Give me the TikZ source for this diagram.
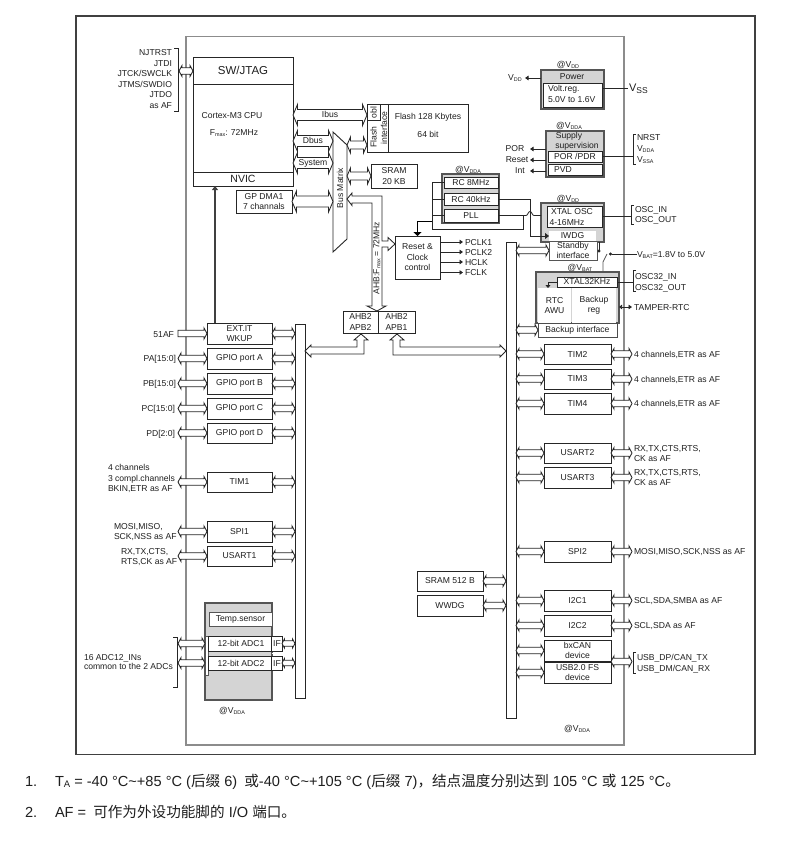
\documentclass[tikz,border=0pt]{standalone}
\usepackage{fontspec}
\setmainfont{Liberation Sans}
\newfontfamily\cjkf{Noto Sans CJK SC}
\usetikzlibrary{calc,arrows.meta}
\definecolor{grayfill}{HTML}{D4D4D4}
\definecolor{grayline}{HTML}{555555}
\definecolor{frameline}{HTML}{8C8C8C}
\newcommand\lowtxt[1]{\raisebox{-1pt}{\fontsize{5.4}{5.4}\selectfont #1}}
\newcommand\bigtxt{\fontsize{11.5}{13}\selectfont}
\newcommand\boxn[7][]{\node[boxs,minimum width={(#5-#3)*1pt},minimum height={(#6-#4)*1pt},#1] (#2) at ({(#3+#5)/2},{(#4+#6)/2}) {#7};}
\newcommand\grp[5]{\node[grps,minimum width={(#4-#2)*1pt},minimum height={(#5-#3)*1pt}] (#1) at ({(#2+#4)/2},{(#3+#5)/2}) {};}
\newcommand\txtC[5][]{\node[anchor=base,#1] (#2) at (#3,#4+3) {#5};}
\newcommand\txtL[5][]{\node[anchor=base west,#1] (#2) at (#3,#4+3) {#5};}
\newcommand\txtR[5][]{\node[anchor=base east,#1] (#2) at (#3,#4+3) {#5};}
\tikzset{
  every node/.style={font=\fontsize{8.6}{10.5}\selectfont,inner sep=0pt,outer sep=0pt,text=black!88},
  boxs/.style={draw=black!85,fill=white,line width=.9pt,align=center},
  grps/.style={draw=grayline,fill=grayfill,line width=1.1pt},
  wire/.style={draw=black!85,line width=.8pt},
  tipl/.style={wire,-{Triangle[length=3.5pt,width=4.5pt]}},
  tipb/.style={wire,{Triangle[length=3pt,width=4.5pt]}-{Triangle[length=3.5pt,width=4.5pt]}},
  fat/.style n args={3}{fill=white,draw=black!85,line width=.85pt,line join=miter,
    to path={
      -- ($(\tikztostart)!#3!(\tikztotarget)!#2!90:(\tikztotarget)$)
      -- ($(\tikztostart)!#3!(\tikztotarget)!#1!90:(\tikztotarget)$)
      -- ($(\tikztotarget)!#3!(\tikztostart)!#1!-90:(\tikztostart)$)
      -- ($(\tikztotarget)!#3!(\tikztostart)!#2!-90:(\tikztostart)$)
      -- (\tikztotarget)
      -- ($(\tikztotarget)!#3!(\tikztostart)!#2!90:(\tikztostart)$)
      -- ($(\tikztotarget)!#3!(\tikztostart)!#1!90:(\tikztostart)$)
      -- ($(\tikztostart)!#3!(\tikztotarget)!#1!-90:(\tikztotarget)$)
      -- ($(\tikztostart)!#3!(\tikztotarget)!#2!-90:(\tikztotarget)$)
      -- cycle}},
  fatsm/.style={fat={3.2pt}{5.5pt}{3pt}},
  fatmd/.style={fat={4pt}{8pt}{3.5pt}},
  fatbg/.style={fat={5.5pt}{10.5pt}{4.5pt}},
  fatend/.style={fill=white,draw=black!85,line width=.85pt,
    to path={
      -- ($(\tikztostart)!3.2pt!90:(\tikztotarget)$)
      -- ($(\tikztotarget)!3pt!(\tikztostart)!3.2pt!-90:(\tikztostart)$)
      -- ($(\tikztotarget)!3pt!(\tikztostart)!5.5pt!-90:(\tikztostart)$)
      -- (\tikztotarget)
      -- ($(\tikztotarget)!3pt!(\tikztostart)!5.5pt!90:(\tikztostart)$)
      -- ($(\tikztotarget)!3pt!(\tikztostart)!3.2pt!90:(\tikztostart)$)
      -- ($(\tikztostart)!3.2pt!-90:(\tikztotarget)$)
      -- cycle}},
}
\begin{document}
\begin{tikzpicture}[x=1pt,y=-1pt]
\useasboundingbox (0,0) rectangle (799,861);
\fill[white] (0,0) rectangle (799,861);
% frames
\draw[draw=black!75,line width=1.1pt] (76,16) rectangle (755,754.5);
\draw[draw=frameline,line width=1.1pt] (186,36.5) rectangle (624,745);

% CPU column
\boxn{jtag}{193}{57}{293}{84}{\bigtxt SW/JTAG}
\boxn{cortex}{193}{84}{293}{172}{}
\boxn{nvic}{193}{172}{293}{186}{\fontsize{10.5}{12}\selectfont NVIC}
\txtC{cortexa}{232}{116}{Cortex-M3 CPU}
\txtC{cortexb}{234}{133}{F\lowtxt{max}: 72MHz}
\boxn{dma}{236}{190}{292}{213}{GP DMA1\\7 channals}
\foreach \n/\y/\t in {a/53/NJTRST,b/64/JTDI,c/74/JTCK\slash SWCLK,d/85/JTMS\slash SWDIO,e/95/JTDO,f/106/as AF}{
  \txtR{jl\n}{172}{\y}{\t}
}
\draw[wire] (174,48) -- (178,48) -- (178,111) -- (174,111);
\coordinate (jt) at (179,71);
\draw[fatsm] (jt) to (jt -| jtag.west);

% bus matrix
\node (mat) at (340,192) [minimum width=14pt,minimum height=120pt] {};
\draw[draw=black!85,fill=white,line width=.9pt] (333,132) -- (347,145) -- (347,239) -- (333,252) -- cycle;
\node[rotate=90] (matl) at (340,188) {Bus Matrix};

% flash
\boxn{flash}{367}{104}{468}{152}{}
\draw[wire] (388,104) -- (388,152);
\draw[wire] (367,120) -- (380,120) -- (380,104);
\node[rotate=90] (fla) at (373.5,112.5) {obl};
\node[rotate=90] (flb) at (373.5,137) {Flash};
\node[rotate=90] (flc) at (384,128) {interface};
\txtC{fld}{428}{117}{Flash 128 Kbytes}
\txtC{fle}{428}{135}{64 bit}
\boxn{sram}{371}{164}{417}{188}{SRAM\\20 KB}

\draw[fatbg] (cortex.east |- 0,115) to (flash.west |- 0,115);
\draw[fatbg] (cortex.east |- 0,141) to (mat.west |- 0,141);
\draw[fatbg] (cortex.east |- 0,163) to (mat.west |- 0,163);
\draw[fatbg] (dma.east) to (dma.east -| mat.west);
\draw[fatmd] (mat.east |- 0,145) to (flash.west |- 0,145);
\draw[fatmd] (mat.east |- sram.west) to (sram.west);
\txtC{ibus}{330}{115}{Ibus}
\txtC{dbus}{313}{141}{Dbus}
\txtC{sysb}{313}{163}{System}

% buses
\boxn{lbus}{295}{324}{305}{698}{}
\boxn{rbus}{506}{242}{516}{718}{}

% AHB
\boxn{ahba}{343}{311}{378}{333}{AHB2\\APB2}
\boxn{ahbb}{378}{311}{415}{333}{AHB2\\APB1}
\draw[fill=white,draw=black!85,line width=.85pt] (347,199) -- (352,193) -- (352,196) -- (382,196) -- (382,241) -- (388,241) -- (388,237.5) -- (395,244) -- (388,250.5) -- (388,247) -- (382,247) -- (382,306) -- (386,306) -- (377,311) -- (367,306) -- (372,306) -- (372,203) -- (352,203) -- (352,205.5) -- cycle;
\node[rotate=90] (ahbl) at (377,258) {AHB:F\lowtxt{max} = 72MHz};
\draw[fill=white,draw=black!85,line width=.85pt] (361,334) -- (368,340) -- (364,340) -- (364,354) -- (311,354) -- (311,357) -- (305,351) -- (311,345) -- (311,347) -- (357,347) -- (357,340) -- (354,340) -- cycle;
\draw[fill=white,draw=black!85,line width=.85pt] (397,334) -- (404,340) -- (400,340) -- (400,347) -- (500,347) -- (500,345) -- (506,351) -- (500,357) -- (500,355) -- (393,355) -- (393,340) -- (390,340) -- cycle;

% Reset & clock
\boxn{rst}{395}{236}{440}{279}{Reset \&\\Clock\\control}
\foreach \n/\y/\t in {a/242/PCLK1,b/252/PCLK2,c/262/HCLK,d/272.5/FCLK}{
  \coordinate (ck\n) at (463,\y);
  \draw[tipl] (ck\n -| rst.east) -- (ck\n);
  \txtL{ckl\n}{465}{\y}{\t}
}

% RC group
\grp{rcg}{442}{174}{499}{223}
\boxn{rca}{444}{177}{498}{188}{RC 8MHz}
\boxn{rcb}{444}{193}{498}{205}{RC 40kHz}
\boxn{pll}{444}{209}{498}{222}{PLL}
\txtC{rcv}{468}{170}{@V\lowtxt{DDA}}

% Power
\grp{pwr}{541}{70}{604}{109}
\boxn{vreg}{543}{83}{602}{107}{}
\txtC{pwrl}{572}{76.5}{Power}
\txtL{vra}{548}{89}{Volt.reg.}
\txtL{vrb}{548}{100}{5.0V to 1.6V}
\txtC{pwrv}{568}{65}{@V\lowtxt{DD}}
\txtC{vddl}{515}{78}{V\lowtxt{DD}}
\coordinate (vdt) at (525,78);
\draw[tipl] (vdt -| pwr.west) -- (vdt);
\draw[wire] (vreg.east |- 0,88) -- (628,88);
\txtL[font=\fontsize{11}{13}\selectfont]{vssl}{629}{89}{V\raisebox{-1.5pt}{\fontsize{8.5}{9}\selectfont SS}}

% Supply
\grp{sup}{546}{131}{604}{177}
\txtC{supa}{569}{136}{Supply}
\txtC{supb}{577}{146}{supervision}
\boxn{por}{548}{151}{602}{162}{POR /PDR}
\boxn{pvd}{548}{164}{602}{175}{}
\txtC{pvdl}{563}{169}{PVD}
\txtC{supv}{569}{126}{@V\lowtxt{DDA}}
\foreach \n/\y/\x/\t in {a/149/515/POR,b/160/517/Reset,c/171/520/Int}{
  \coordinate (sp\n) at (530,\y);
  \draw[tipl] (sp\n -| sup.west) -- (sp\n);
  \txtC{spl\n}{\x}{\y}{\t}
}
\draw[wire] (por.east) -- (633,156.5);
\draw[wire] (636,134) -- (633,134) -- (633,164) -- (636,164);
\txtL{nra}{637}{138}{NRST}
\txtL{nrb}{637}{149}{V\lowtxt{DDA}}
\txtL{nrc}{637}{160}{V\lowtxt{SSA}}

% XTAL
\grp{xtg}{541}{203}{604}{242}
\boxn{xtal}{547}{206}{602}{227}{}
\txtC{xta}{572}{211}{XTAL OSC}
\txtC{xtb}{567}{222}{4-16MHz}
\txtC{xtv}{568}{198}{@V\lowtxt{DD}}
\node[fill=white,minimum width=47pt,minimum height=10pt] (iwdg) at (572.5,236) {IWDG};
\node[draw=grayline,fill=white,line width=.9pt,minimum width=48pt,minimum height=19pt,align=center] (stby) at (573,250.5) {Standby\\interface};
\draw[wire] (xtal.east) -- (631,216.5);
\draw[wire] (634,205) -- (631,205) -- (631,224) -- (634,224);
\txtL{osa}{635}{209}{OSC\_IN}
\txtL{osb}{635}{219.5}{OSC\_OUT}

% wires from RC group
\coordinate (ja) at (432,229);
\coordinate (jb) at (523,229);
\draw[wire] (rca.west) -| (ja) -- (jb) |- (pll.east);
\draw[wire] (rcb.west) -- (rcb.west -| ja);
\draw[wire] (pll.west) -- (pll.west -| ja);
\draw[wire] (pll.east -| jb) -- (526,215.5) .. controls (528,215.5) and (528,211.5) .. (530,211.5) .. controls (532,211.5) and (532,215.5) .. (534,215.5) -- (pll.east -| xtg.west);
\coordinate (iwc) at (530,236);
\draw[wire,-{Triangle[length=4pt,width=6pt]}] (rcb.east) -| (iwc) -- (iwdg.west);
\coordinate (rsj) at (432,221);
\draw[line width=1pt,draw=black,-{Triangle[length=4pt,width=8pt]}] (rsj) -| (rst.north);

% VBAT
\coordinate (vbt) at (637,254);
\coordinate (vbs) at (609,254);
\draw[wire,{Circle[length=3pt]}-] (vbs) -- (vbt);
\txtL{vbl}{637}{254}{V\lowtxt{BAT}=1.8V to 5.0V}
\draw[wire,-{Circle[length=3pt]}] (599,242) -- (599,252.5);
\draw[wire,draw=grayline] (603,272) -- (603,262) -- (607,254);

% Backup domain
\grp{bkg}{536}{272}{619}{323}
\boxn{xt32}{557}{277}{617}{287}{XTAL32KHz}
\node[fill=white,minimum width=33pt,minimum height=35pt,align=center] (rtc) at (554.5,305.5) {RTC\\AWU};
\node[fill=white,minimum width=44pt,minimum height=35pt,align=center] (bkr) at (594,305.5) {Backup\\reg};
\boxn[draw=black!70]{bkif}{538}{323}{617}{337}{Backup interface}
\txtC{bkv}{580}{267}{@V\lowtxt{BAT}}
\coordinate (xsm) at (548,288);
\draw[wire,-{Triangle[length=3pt,width=5pt]}] (xt32.west) -| (xsm);
\draw[wire] (xt32.east) -- (633,282);
\draw[wire] (636,270) -- (633,270) -- (633,291) -- (636,291);
\txtL{o3a}{635}{276}{OSC32\_IN}
\txtL{o3b}{635}{287}{OSC32\_OUT}
\coordinate (tmp) at (632,307);
\draw[tipb] (tmp -| bkg.east) -- (tmp);
\txtL{tmpl}{634}{307}{TAMPER-RTC}
\draw[fatsm] (rbus.east |- stby.west) to (stby.west);
\draw[fatsm] (rbus.east |- bkif.west) to (bkif.west);

% left peripherals
\boxn{ext}{207}{323}{272}{344}{EXT.IT\\WKUP}
\boxn{gpa}{207}{348}{272}{369}{GPIO port A}
\boxn{gpb}{207}{373}{272}{394}{GPIO port B}
\boxn{gpc}{207}{398}{272}{419}{GPIO port C}
\boxn{gpd}{207}{423}{272}{443}{GPIO port D}
\boxn{tima}{207}{472}{272}{492}{TIM1}
\boxn{spia}{207}{521}{272}{542}{SPI1}
\boxn{usa}{207}{546}{272}{566}{USART1}
\coordinate (pinl) at (178,0);
\coordinate (nv) at (215,186);
\draw[line width=1.1pt,draw=black!75,-{Triangle[length=4pt,width=6pt]}] (ext.north -| nv) -- (nv);
\draw[fatend] (ext.west -| pinl) to (ext.west);
\foreach \n in {ext,gpa,gpb,gpc,gpd,tima,spia,usa}{
  \draw[fatsm] (\n.east) to (\n.east -| lbus.west);
}
\foreach \n in {gpa,gpb,gpc,gpd,tima,spia,usa}{
  \draw[fatsm] (\n.west -| pinl) to (\n.west);
}
\txtR{l51}{174}{334}{51AF}
\txtR{lpa}{176}{358}{PA[15:0]}
\txtR{lpb}{176}{383}{PB[15:0]}
\txtR{lpc}{175}{408}{PC[15:0]}
\txtR{lpd}{175}{433}{PD[2:0]}
\txtL{lta}{108}{467}{4 channels}
\txtL{ltb}{108}{478}{3 compl.channels}
\txtL{ltc}{108}{488}{BKIN,ETR as AF}
\txtL{lsa}{114}{526}{MOSI,MISO,}
\txtL{lsb}{114}{536.5}{SCK,NSS as AF}
\txtL{lua}{121}{551}{RX,TX,CTS,}
\txtL{lub}{121}{561}{RTS,CK as AF}

% ADC
\grp{adg}{205}{603}{272}{700}
\boxn[draw=grayline]{tmps}{209}{612}{272}{626}{Temp.sensor}
\boxn[draw=grayline]{adst}{205}{636}{208}{675}{}
\boxn{adca}{208}{636}{282}{651}{}
\boxn{adcb}{208}{656}{282}{670}{}
\draw[wire] (271,636) -- (271,651);
\draw[wire] (271,656) -- (271,670);
\draw[draw=white,line width=1.2pt,dash pattern=on 3pt off 2pt] (272,653.5) -- (282,653.5);
\txtC{adl1}{241}{643}{12-bit ADC1}
\txtC{adl2}{241}{663}{12-bit ADC2}
\txtC{ifa}{277}{643}{IF}
\txtC{ifb}{277}{663}{IF}
\txtC{adv}{232}{710}{@V\lowtxt{DDA}}
\draw[wire] (173,637) -- (177,637) -- (177,687) -- (173,687);
\draw[fatsm] (adca.west -| pinl) to (adca.west -| adg.west);
\draw[fatsm] (adcb.west -| pinl) to (adcb.west -| adg.west);
\draw[fat={2.8pt}{4.5pt}{2.5pt}] (adca.east) to (adca.east -| lbus.west);
\draw[fat={2.8pt}{4.5pt}{2.5pt}] (adcb.east) to (adcb.east -| lbus.west);
\txtL{ada}{84}{657}{16 ADC12\_INs}
\txtL{adb}{84}{666.5}{common to the 2 ADCs}

% right peripherals
\boxn{timb}{544}{344}{611}{364}{TIM2}
\boxn{timc}{544}{369}{611}{389}{TIM3}
\boxn{timd}{544}{393}{611}{414}{TIM4}
\boxn{usb}{544}{443}{611}{463}{USART2}
\boxn{usc}{544}{467}{611}{488}{USART3}
\boxn{spib}{544}{541}{611}{562}{SPI2}
\boxn{ica}{544}{590}{611}{611}{I2C1}
\boxn{icb}{544}{615}{611}{636}{I2C2}
\boxn{can}{544}{640}{611}{661}{bxCAN\\device}
\boxn{usbd}{544}{662}{611}{683}{USB2.0 FS\\device}
\foreach \n in {timb,timc,timd,usb,usc,spib,ica,icb,can,usbd}{
  \draw[fatsm] (rbus.east |- \n.west) to (\n.west);
}
\coordinate (pinr) at (632,0);
\foreach \n in {timb,timc,timd,usb,usc,spib,ica,icb}{
  \draw[fatsm] (\n.east) to (\n.east -| pinr);
}
\coordinate (cant) at (611,661.5);
\draw[fatsm] (cant) to (cant -| pinr);
\draw[wire] (636,652) -- (633,652) -- (633,673) -- (636,673);
\txtL{tl2}{634}{354}{4 channels,ETR as AF}
\txtL{tl3}{634}{379}{4 channels,ETR as AF}
\txtL{tl4}{634}{403}{4 channels,ETR as AF}
\txtL{uba}{634}{448}{RX,TX,CTS,RTS,}
\txtL{ubb}{634}{458}{CK as AF}
\txtL{uca}{634}{472.5}{RX,TX,CTS,RTS,}
\txtL{ucb}{634}{482.5}{CK as AF}
\txtL{spl}{634}{551}{MOSI,MISO,SCK,NSS as AF}
\txtL{ial}{634}{600}{SCL,SDA,SMBA as AF}
\txtL{ibl}{634}{625}{SCL,SDA as AF}
\txtL{usa2}{637}{657}{USB\_DP/CAN\_TX}
\txtL{usb2}{637}{668}{USB\_DM/CAN\_RX}
\boxn{srb}{417}{571}{483}{591}{SRAM 512 B}
\boxn{wwd}{417}{595}{483}{616}{WWDG}
\draw[fatsm] (srb.east) to (srb.east -| rbus.west);
\draw[fatsm] (wwd.east) to (wwd.east -| rbus.west);
\txtC{rbv}{577}{728}{@V\lowtxt{DDA}}

% notes
\tikzset{every node/.append style={font=\fontsize{14.6}{17}\selectfont}}
\node[anchor=base west] (n1a) at (25,786) {1.};
\node[anchor=base west] (n1b) at (55,786) {T\raisebox{-1.5pt}{\fontsize{9.5}{10}\selectfont A} = -40 °C\textasciitilde+85 °C ({\cjkf 后缀} 6)\hspace{3pt} {\cjkf 或}-40 °C\textasciitilde+105 °C ({\cjkf 后缀} 7){\cjkf ，结点温度分别达到} 105 °C {\cjkf 或} 125 °C{\cjkf 。}};
\node[anchor=base west] (n2a) at (25,817) {2.};
\node[anchor=base west] (n2b) at (55,817) {AF =\hspace{3pt} {\cjkf 可作为外设功能脚的} I/O {\cjkf 端口。}};
\end{tikzpicture}
\end{document}
